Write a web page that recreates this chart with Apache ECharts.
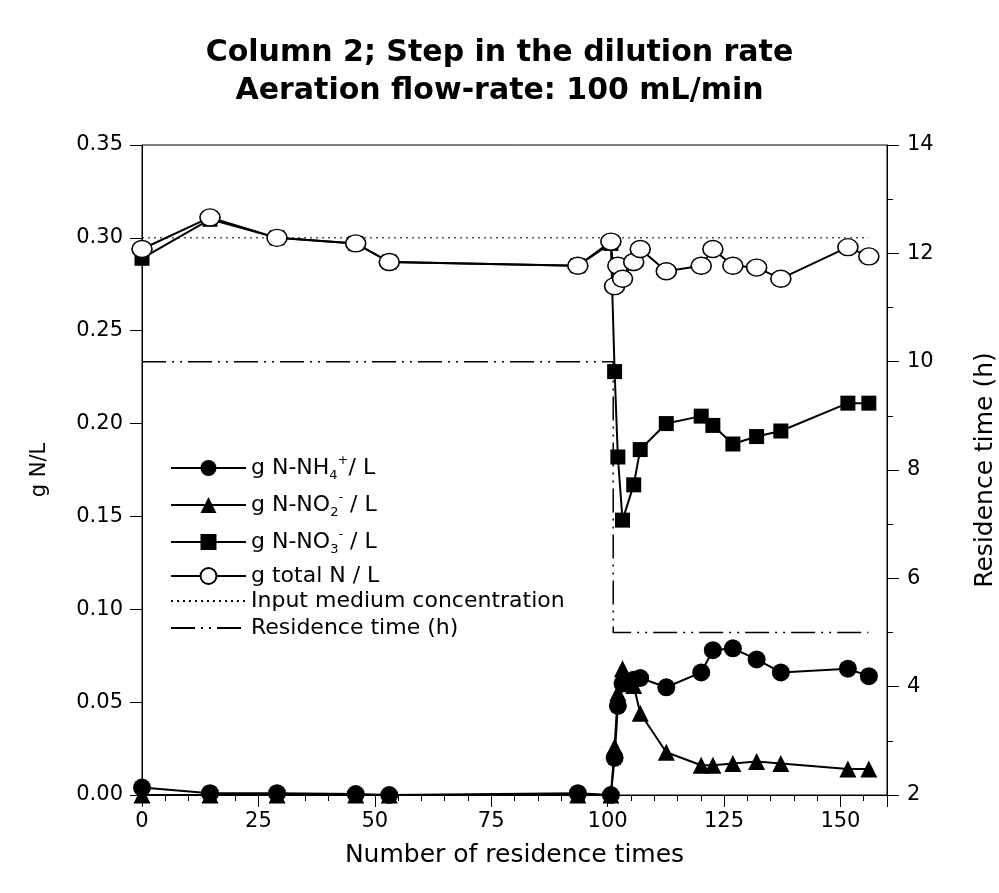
<!DOCTYPE html>
<html>
<head>
  <meta charset="utf-8">
  <style>
    html, body { width: 100%; height: 100%; margin: 0; padding: 0; overflow: hidden; background: #fff; }
    #container { width: 999px; height: 893px; }
  </style>
</head>
<body>
  <div id="container"></div>
  <script src="https://cdn.jsdelivr.net/npm/echarts@6/dist/echarts.min.js"></script>
  <script>
    // number of residence times (shared x for the four measured series)
    var residenceTimes = [0, 14.6, 29.0, 45.9, 53.1, 93.6, 100.7, 101.5, 102.2, 103.2,
      105.6, 107.0, 112.6, 120.1, 122.6, 126.9, 132.0, 137.2, 151.6, 156.1];
    var nh4 = [0.004, 0.001, 0.001, 0.0005, 0.000, 0.001, 0.000, 0.020, 0.048, 0.060,
      0.062, 0.063, 0.058, 0.066, 0.078, 0.079, 0.073, 0.066, 0.068, 0.064];
    var no2 = [0.000, 0.000, 0.000, 0.000, 0.000, 0.000, 0.000, 0.026, 0.055, 0.068,
      0.059, 0.044, 0.023, 0.016, 0.016, 0.017, 0.018, 0.017, 0.014, 0.014];
    var no3 = [0.289, 0.310, 0.300, 0.297, 0.287, 0.285, 0.297, 0.228, 0.182, 0.148,
      0.167, 0.186, 0.200, 0.204, 0.199, 0.189, 0.193, 0.196, 0.211, 0.211];
    var totalN = [0.294, 0.311, 0.300, 0.297, 0.287, 0.285, 0.298, 0.274, 0.285, 0.278,
      0.287, 0.294, 0.282, 0.285, 0.294, 0.285, 0.284, 0.278, 0.295, 0.290];

    // input medium concentration (g N/L)
    var inputX = [0, 156];
    var inputConc = [0.30, 0.30];

    // residence time (h), step at ~101 residence times
    var stepX = [0, 101.2, 101.2, 156];
    var stepH = [10, 10, 5, 5];

    var leftTicks = { min: 0, max: 0.35, interval: 0.05 };
    var rightTicks = { min: 2, max: 14, interval: 2 };

    function pairs(xs, ys) {
      return xs.map(function (x, i) { return [x, ys[i]]; });
    }

    var FONT = 'DejaVu Sans';
    var legendRich = {
      t: { fontSize: 22, fontFamily: FONT, color: '#000', lineHeight: 28 },
      sub: { fontSize: 13, fontFamily: FONT, color: '#000', verticalAlign: 'bottom', lineHeight: 28 },
      sup: { fontSize: 13, fontFamily: FONT, color: '#000', verticalAlign: 'top', lineHeight: 28 }
    };
    var legendText = {
      'NH4': '{t|g N-NH}{sub|4}{sup|+}{t|/ L}',
      'NO2': '{t|g N-NO}{sub|2}{sup|-}{t| / L}',
      'NO3': '{t|g N-NO}{sub|3}{sup|-}{t| / L}',
      'Total': '{t|g total N / L}',
      'Input': '{t|Input medium concentration}',
      'Residence': '{t|Residence time (h)}'
    };

    var chart = echarts.init(document.getElementById('container'));

    var lineBlack = { color: '#000', width: 2 };

    chart.setOption({
      animation: false,
      title: {
        text: 'Column 2; Step in the dilution rate\nAeration flow-rate: 100 mL/min',
        left: 'center',
        top: 29,
        textStyle: { fontFamily: FONT, fontWeight: 'bold', fontSize: 30, lineHeight: 38, color: '#000' }
      },
      grid: {
        left: 142, right: 112, top: 145, bottom: 98,
        outerBoundsMode: 'none',
        show: true, borderColor: '#000', borderWidth: 1
      },
      legend: [{
        data: ['NH4', 'NO2', 'NO3', 'Total'],
        orient: 'vertical',
        left: 165, top: 449,
        itemWidth: 75, itemHeight: 20, itemGap: 9,
        formatter: function (n) { return legendText[n]; },
        textStyle: { rich: legendRich }
      }, {
        data: [
          { name: 'Input', itemStyle: { opacity: 0 } },
          { name: 'Residence', itemStyle: { opacity: 0 } }
        ],
        orient: 'vertical',
        left: 165, top: 585,
        itemWidth: 75, itemHeight: 20, itemGap: 5,
        formatter: function (n) { return legendText[n]; },
        textStyle: { rich: legendRich }
      }],
      xAxis: {
        type: 'value', min: 0, max: 160, interval: 25,
        name: 'Number of residence times', nameLocation: 'middle', nameGap: 48,
        nameTextStyle: { fontFamily: FONT, fontSize: 25, color: '#000' },
        axisLine: { lineStyle: { color: '#000' } },
        axisTick: { inside: false, length: 12, lineStyle: { color: '#000' } },
        minorTick: { show: true, splitNumber: 5, length: 6, lineStyle: { color: '#000' } },
        axisLabel: { margin: 16, fontFamily: FONT, fontSize: 21, color: '#000', showMaxLabel: false },
        splitLine: { show: false }
      },
      yAxis: [{
        type: 'value', min: leftTicks.min, max: leftTicks.max, interval: leftTicks.interval,
        name: 'g N/L', nameLocation: 'middle', nameGap: 92,
        nameTextStyle: { fontFamily: FONT, fontSize: 21, color: '#000' },
        axisLine: { show: true, lineStyle: { color: '#000' } },
        axisTick: { show: true, length: 12, lineStyle: { color: '#000' } },
        axisLabel: { margin: 19, fontFamily: FONT, fontSize: 21, color: '#000',
          formatter: function (v) { return v.toFixed(2); } },
        splitLine: { show: false }
      }, {
        type: 'value', min: rightTicks.min, max: rightTicks.max, interval: rightTicks.interval,
        position: 'right',
        name: 'Residence time (h)', nameLocation: 'middle', nameGap: 86,
        nameTextStyle: { fontFamily: FONT, fontSize: 25, color: '#000' },
        axisLine: { show: true, lineStyle: { color: '#000' } },
        axisTick: { show: true, length: 12, lineStyle: { color: '#000' } },
        minorTick: { show: true, splitNumber: 2, length: 6, lineStyle: { color: '#000' } },
        axisLabel: { margin: 20, fontFamily: FONT, fontSize: 21, color: '#000' },
        splitLine: { show: false }
      }],
      series: [{
        name: 'Input', type: 'line', symbol: 'none',
        data: pairs(inputX, inputConc),
        lineStyle: { color: '#000', width: 1, type: [2, 4] },
        itemStyle: { color: '#000' }
      }, {
        name: 'Residence', type: 'line', symbol: 'none', yAxisIndex: 1,
        data: pairs(stepX, stepH),
        lineStyle: { color: '#000', width: 1.5, type: [24, 6, 2, 6, 2, 6] },
        itemStyle: { color: '#000' }
      }, {
        name: 'NH4', type: 'line', symbol: 'circle', symbolSize: 18,
        data: pairs(residenceTimes, nh4),
        lineStyle: lineBlack, itemStyle: { color: '#000' }
      }, {
        name: 'NO2', type: 'line', symbol: 'triangle', symbolSize: 17,
        data: pairs(residenceTimes, no2),
        lineStyle: lineBlack, itemStyle: { color: '#000' }
      }, {
        name: 'NO3', type: 'line', symbol: 'rect', symbolSize: 15,
        data: pairs(residenceTimes, no3),
        lineStyle: lineBlack, itemStyle: { color: '#000' }
      }, {
        name: 'Total', type: 'line', symbol: 'circle', symbolSize: [20, 17],
        data: pairs(residenceTimes, totalN),
        lineStyle: lineBlack,
        itemStyle: { color: '#fff', borderColor: '#000', borderWidth: 1.5 }
      }]
    });
  </script>
</body>
</html>
